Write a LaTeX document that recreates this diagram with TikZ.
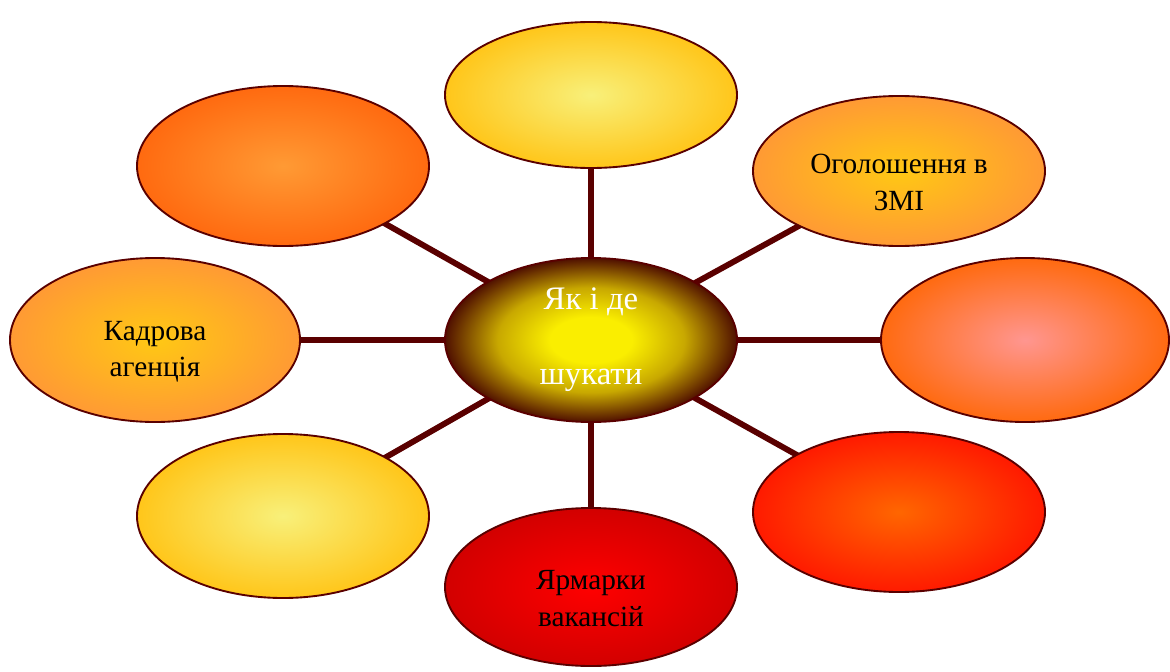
\documentclass[tikz,border=0pt]{standalone}
\usepackage{fontspec}
\setmainfont{Liberation Serif}
\usetikzlibrary{shapes.geometric,backgrounds}

\definecolor{rim}{HTML}{5A0000}
\definecolor{paleyel}{HTML}{F8F07A}
\definecolor{gold}{HTML}{FFC61A}
\definecolor{amber}{HTML}{FFC814}
\definecolor{tango}{HTML}{FF9A34}
\definecolor{pumpkin}{HTML}{FF6A10}
\definecolor{blush}{HTML}{FF9690}
\definecolor{flame}{HTML}{FF6600}
\definecolor{scarlet}{HTML}{FF1A00}
\definecolor{crimson}{HTML}{D20000}
\definecolor{lemon}{HTML}{FAEE00}
\definecolor{olive}{HTML}{C8A800}
\definecolor{umber}{HTML}{501000}
\pgfdeclareradialshading{glow}{\pgfpoint{0bp}{0bp}}{color(0bp)=(lemon);
  color(7bp)=(lemon); color(16bp)=(olive); color(25bp)=(umber); color(50bp)=(umber)}

\begin{document}
\begin{tikzpicture}
[x=0.03cm,y=-0.03cm,
 every node/.style={ellipse,draw=rim,line width=1.6pt,inner sep=0pt,
   minimum width=8.76cm,minimum height=4.8cm,align=center,
   font=\fontsize{25}{31}\selectfont},
 spoke/.style={draw=rim,line width=5pt}]
\useasboundingbox (0,0) rectangle (1170,672);
\node[shading=glow,minimum height=4.92cm,text=white,
  font=\fontsize{28}{64}\selectfont] (c) at (591,340) {Як і де\\шукати};
\node[inner color=paleyel,outer color=gold,minimum height=4.38cm] (n1) at (591,95) {};
\node[inner color=amber,outer color=tango,minimum height=4.5cm] (n2) at (899,171) {\rule{0pt}{36pt}Оголошення в\\ЗМІ};
\node[inner color=blush,outer color=pumpkin,minimum width=8.64cm,minimum height=4.92cm] (n3) at (1025,340) {};
\node[inner color=flame,outer color=scarlet] (n4) at (899,512) {};
\node[inner color=red,outer color=crimson,minimum height=4.74cm] (n5) at (591,587) {\rule{0pt}{36pt}Ярмарки\\вакансій};
\node[inner color=paleyel,outer color=gold,minimum height=4.92cm] (n6) at (283,516) {};
\node[inner color=amber,outer color=tango,minimum width=8.7cm,minimum height=4.92cm] (n7) at (155,340) {\rule{0pt}{36pt}Кадрова\\агенція};
\node[inner color=tango,outer color=pumpkin] (n8) at (283,166) {};
\begin{scope}[on background layer]
\foreach \to in {n1,n2,n3,n4,n5,n6,n7,n8}
\draw[spoke] (c.center) -- (\to.center);
\end{scope}
\end{tikzpicture}
\end{document}
